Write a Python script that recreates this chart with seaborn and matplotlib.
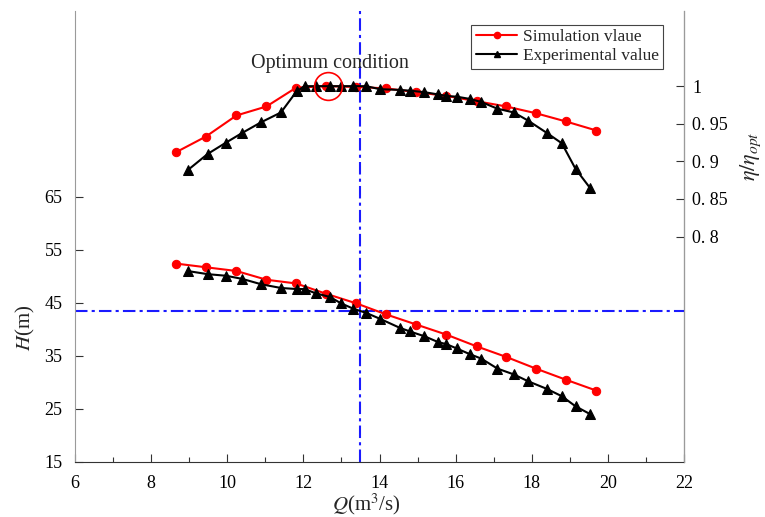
import matplotlib
matplotlib.use("Agg")
import matplotlib.pyplot as plt
import seaborn as sns
from matplotlib.lines import Line2D
from matplotlib.ticker import MultipleLocator

# Simulation results
q_sim = [8.65, 9.44, 10.24, 11.03, 11.81, 12.60, 13.39, 14.18, 14.97, 15.76,
         16.55, 17.33, 18.11, 18.90, 19.70]
h_sim = [52.4, 51.7, 51.0, 49.35, 48.65, 46.7, 44.9, 42.8, 40.9, 39.0,
         36.8, 34.8, 32.6, 30.5, 28.45]
eff_sim = [0.912, 0.933, 0.961, 0.973, 0.998, 1.000, 0.999, 0.997, 0.992, 0.987,
           0.980, 0.973, 0.964, 0.953, 0.941]

# Test-rig measurements
q_exp = [8.98, 9.49, 9.97, 10.40, 10.89, 11.41, 11.82, 12.03, 12.32, 12.70,
         12.99, 13.31, 13.65, 14.01, 14.53, 14.80, 15.18, 15.54, 15.76, 16.03,
         16.38, 16.67, 17.10, 17.53, 17.91, 18.39, 18.79, 19.15, 19.54]
h_exp = [50.97, 50.4, 50.1, 49.5, 48.5, 47.8, 47.6, 47.6, 46.8, 46.1,
         44.9, 43.9, 43.1, 42.0, 40.3, 39.6, 38.7, 37.6, 37.2, 36.4,
         35.3, 34.5, 32.6, 31.5, 30.2, 28.8, 27.4, 25.5, 24.0]
eff_exp = [0.889, 0.910, 0.925, 0.938, 0.952, 0.965, 0.993, 1.000, 1.000, 1.000,
           1.000, 1.000, 1.000, 0.996, 0.995, 0.994, 0.992, 0.989, 0.987, 0.986,
           0.983, 0.979, 0.970, 0.965, 0.954, 0.938, 0.924, 0.890, 0.864]

# Design (optimum) operating point
q_opt = 13.48
h_opt = 43.5
q_mark, eff_mark = 12.66, 1.0

x_ticks = [6, 8, 10, 12, 14, 16, 18, 20, 22]
h_ticks = [15, 25, 35, 45, 55, 65]
eff_ticks = [0.8, 0.85, 0.9, 0.95, 1.0]
eff_tick_labels = ["0. 8", "0. 85", "0. 9", "0. 95", "1"]
legend_labels = ["Simulation vlaue", "Experimental value"]

sns.set_style("ticks")
plt.rcParams["font.family"] = ["Liberation Serif", "DejaVu Serif"]
plt.rcParams["mathtext.fontset"] = "stix"

W, H = 765, 517
fig = plt.figure(figsize=(W / 100, H / 100), dpi=100)
ax = fig.add_axes([75 / W, 1 - 462 / H, 609 / W, 451 / H])
ax2 = ax.twinx()

sim_style = dict(color="red", marker="o", markersize=6, markeredgecolor="red",
                 linewidth=1.5, estimator=None, sort=False)
exp_style = dict(color="black", marker="^", markersize=7, markeredgecolor="black",
                 linewidth=1.5, estimator=None, sort=False)

sns.lineplot(x=q_sim, y=h_sim, ax=ax, **sim_style)
sns.lineplot(x=q_exp, y=h_exp, ax=ax, **exp_style)
sns.lineplot(x=q_sim, y=eff_sim, ax=ax2, **sim_style)
sns.lineplot(x=q_exp, y=eff_exp, ax=ax2, **exp_style)

dashdot = (0, (6, 2, 1.5, 2))
ax.axvline(q_opt, color="#1a1aff", linestyle=dashdot, linewidth=1.5, zorder=1)
ax.axhline(h_opt, color="#1a1aff", linestyle=dashdot, linewidth=1.5, zorder=1)

# Optimum marker and annotation
ax2.plot([q_mark], [eff_mark], marker="o", markersize=20, markerfacecolor="none",
         markeredgecolor="red", markeredgewidth=1.2, linestyle="none")
ax2.text(q_mark + 0.05, 1.03, "Optimum condition", ha="center", va="center",
         fontsize=14.5)

ax.set_xlim(6, 22)
ax.set_ylim(15, 100)
ax2.set_ylim(0.5, 1.1)
ax.set_xticks(x_ticks)
ax.xaxis.set_minor_locator(MultipleLocator(1))
ax.set_yticks(h_ticks)
ax2.set_yticks(eff_ticks)
ax2.set_yticklabels(eff_tick_labels)

for a in (ax, ax2):
    a.tick_params(axis="both", which="major", direction="in", length=6,
                  width=0.8, labelsize=13, colors="#333333", labelcolor="black")
    a.tick_params(axis="x", which="minor", direction="in", length=3.5,
                  width=0.8, colors="#333333")
ax.tick_params(axis="x", pad=9)
ax.tick_params(axis="y", pad=9)
ax2.tick_params(axis="y", pad=6)

ax.spines["top"].set_visible(False)
ax2.spines["top"].set_visible(False)
ax.spines["left"].set_color("#9a9a9a")
ax2.spines["right"].set_color("#9a9a9a")
ax.spines["bottom"].set_color("#333333")
ax2.spines["left"].set_visible(False)
ax2.spines["bottom"].set_visible(False)

# Axis titles
fig.text(366 / W, 1 - 504 / H, r"$Q$(m$^3$/s)", fontsize=15,
         ha="center", va="center")
fig.text(25 / W, 1 - 328 / H, r"$H$(m)", fontsize=15, rotation=90,
         ha="center", va="center")
fig.text(751 / W, 1 - 156 / H, r"$\eta/\eta_{opt}$", fontsize=16, rotation=90,
         ha="center", va="center")

handles = [
    Line2D([], [], color="red", marker="o", markersize=4.5, linewidth=1.5),
    Line2D([], [], color="black", marker="^", markersize=5, linewidth=1.5),
]
leg = ax2.legend(handles, legend_labels, loc="upper right",
                 bbox_to_anchor=(0.9655, 0.969), fontsize=12.5, frameon=True,
                 fancybox=False, edgecolor="#444444", framealpha=1,
                 handlelength=2.4, borderpad=0.25, labelspacing=0.15,
                 handletextpad=0.3, borderaxespad=0)
leg.get_frame().set_linewidth(0.8)

fig.savefig("out.png", dpi=100)
